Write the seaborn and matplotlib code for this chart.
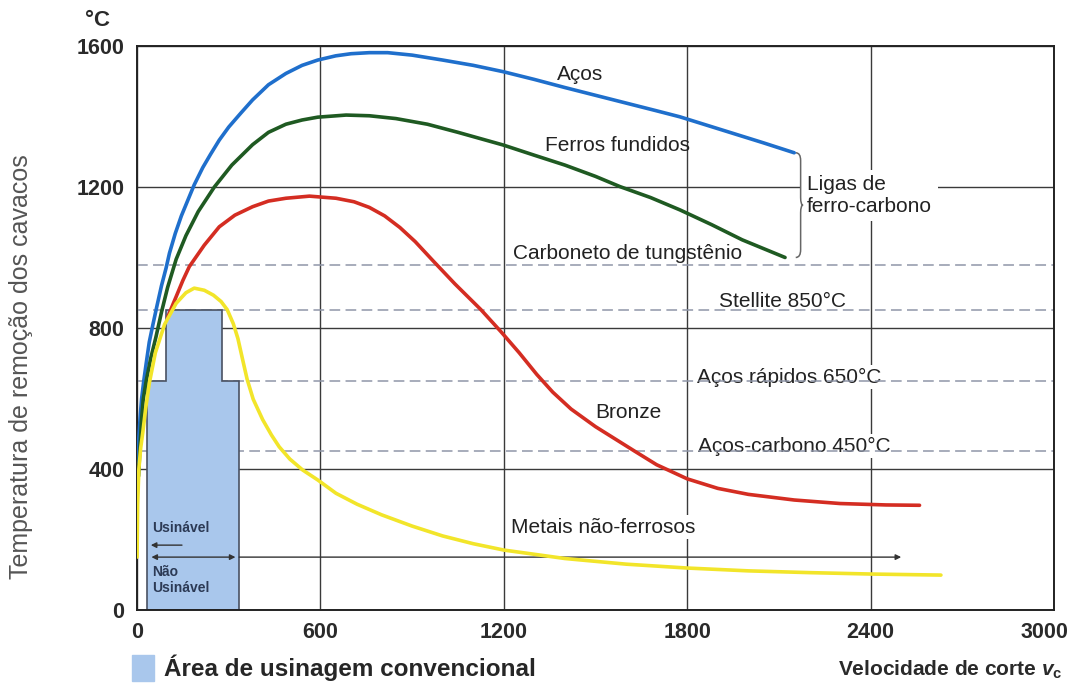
import pandas as pd
import matplotlib.pyplot as plt
import seaborn as sns
from matplotlib.patches import Patch, PathPatch
from matplotlib.path import Path
from matplotlib.transforms import ScaledTranslation

# curvas (velocidade de corte m/min, temperatura C)
aco_x = [2, 6, 10, 15, 22, 30, 40, 52, 65, 80, 95, 106, 125, 145, 165, 187, 215, 240, 269, 300,
         340, 378, 430, 487, 540, 591, 650, 700, 760, 820, 900, 1000, 1100, 1198, 1300, 1400,
         1500, 1600, 1700, 1776, 1850, 1950, 2050, 2150]
aco_y = [420, 490, 545, 600, 650, 700, 760, 810, 862, 920, 970, 1012, 1068, 1118, 1160, 1206,
         1255, 1292, 1333, 1370, 1410, 1447, 1490, 1522, 1545, 1560, 1572, 1578, 1581, 1581,
         1574, 1560, 1545, 1527, 1505, 1482, 1460, 1438, 1416, 1399, 1379, 1352, 1325, 1297]

ferro_x = [5, 10, 15, 20, 30, 45, 62, 80, 100, 128, 160, 200, 253, 310, 378, 430, 487, 540, 591,
           684, 760, 847, 950, 1050, 1198, 1300, 1400, 1500, 1580, 1680, 1776, 1880, 1980, 2050, 2120]
ferro_y = [380, 470, 540, 596, 650, 715, 775, 845, 915, 995, 1062, 1130, 1200, 1262, 1320, 1355,
           1378, 1390, 1398, 1404, 1402, 1394, 1378, 1355, 1319, 1290, 1262, 1230, 1201, 1170,
           1135, 1093, 1050, 1025, 1000]

bronze_x = [100, 115, 128, 150, 171, 220, 269, 320, 378, 430, 487, 564, 651, 710,
            760, 810, 860, 910, 969, 1040, 1125, 1190, 1250, 1308, 1360, 1420, 1500, 1629, 1700,
            1800, 1900, 2000, 2150, 2300, 2450, 2560]
bronze_y = [830, 862, 889, 935, 974, 1035, 1087, 1120, 1144, 1160, 1168, 1174,
            1168, 1158, 1142, 1118, 1085, 1045, 990, 925, 852, 790, 730, 668, 618, 570, 520, 450,
            412, 372, 345, 328, 312, 302, 298, 297]

naofe_x = [0, 2, 6, 12, 19, 28, 40, 60, 90, 128, 160, 187, 220, 250, 275, 295, 315, 330, 345,
           360, 380, 411, 440, 465, 500, 542, 591, 651, 720, 800, 900, 1000, 1100, 1200, 1400,
           1600, 1800, 2000, 2200, 2400, 2630]
naofe_y = [150, 300, 400, 460, 505, 570, 643, 730, 810, 870, 900, 913, 907, 893, 875, 852, 812,
           770, 712, 655, 598, 540, 496, 463, 428, 397, 369, 331, 300, 270, 238, 210, 188, 170,
           146, 130, 119, 111, 106, 102, 99]

# limites de temperatura das ferramentas
limites = [980, 850, 650, 450]
limites_txt = ["Carboneto de tungstênio", "Stellite 850°C", "Aços rápidos 650°C", "Aços-carbono 450°C"]

# area de usinagem convencional
area_x = [33, 33, 94, 94, 277, 277, 334, 334]
area_y = [0, 650, 650, 850, 850, 650, 650, 0]

x_ticks = [0, 600, 1200, 1800, 2400, 3000]
y_ticks = [0, 400, 800, 1200, 1600]

nomes = ["Aços", "Ferros fundidos", "Bronze", "Metais não-ferrosos"]
cores = {"Aços": "#1f6fcc", "Ferros fundidos": "#1f5a22", "Bronze": "#d42d22",
         "Metais não-ferrosos": "#f2e52a"}

df = pd.concat([
    pd.DataFrame({"v": aco_x, "T": aco_y, "curva": nomes[0]}),
    pd.DataFrame({"v": ferro_x, "T": ferro_y, "curva": nomes[1]}),
    pd.DataFrame({"v": bronze_x, "T": bronze_y, "curva": nomes[2]}),
    pd.DataFrame({"v": naofe_x, "T": naofe_y, "curva": nomes[3]}),
])

sns.set_theme(style="white")
plt.rcParams['font.family'] = ['Liberation Sans', 'DejaVu Sans']
plt.rcParams['mathtext.fontset'] = 'custom'
plt.rcParams['mathtext.rm'] = 'Liberation Sans:bold'
plt.rcParams['mathtext.it'] = 'Liberation Sans:italic:bold'

fig = plt.figure(figsize=(10.74, 6.84), dpi=100)
ax = fig.add_axes([0.1276, 0.1082, 0.8538, 0.8246])

ax.set_xlim(0, 3000)
ax.set_ylim(0, 1600)
ax.set_xticks(x_ticks)
ax.set_yticks(y_ticks)
ax.set_xticklabels([str(t) for t in x_ticks], fontsize=15.5, fontweight='bold', color='#2a2a2a')
ax.set_yticklabels([str(t) for t in y_ticks], fontsize=15.5, fontweight='bold', color='#2a2a2a')
ax.tick_params(axis='both', length=0)
ax.tick_params(axis='x', pad=9)
ax.tick_params(axis='y', pad=9)
ult = ax.get_xticklabels()[-1]
ult.set_transform(ult.get_transform() + ScaledTranslation(-10 / 100, 0, fig.dpi_scale_trans))
ax.set_axisbelow(True)
ax.grid(True, color='#3a3a3a', lw=1.0)
for s in ax.spines.values():
    s.set_color('#222222')
    s.set_linewidth(1.4)

for v in limites:
    ax.axhline(v, ls=(0, (7, 3.5)), color='#8f96a8', lw=1.1, zorder=1.5)

ax.fill(area_x, area_y, facecolor='#a9c7ec', edgecolor='#4a5262', lw=1.2, zorder=2)

sns.lineplot(data=df, x="v", y="T", hue="curva", palette=cores, estimator=None, sort=False,
             lw=2.6, legend=False, ax=ax, zorder=4)

ax.set_xlabel("")
ax.set_ylabel("Temperatura de remoção dos cavacos", fontsize=18, color='#555555')
ax.yaxis.set_label_coords(-0.1135, 0.431)

txt = dict(fontsize=15, color='#222222', ha='center', va='center')
caixa = dict(facecolor='white', edgecolor='none', pad=2)
ax.text(1449, 1518, "Aços", **txt)
ax.text(1573, 1319, "Ferros fundidos", **txt)
ax.text(1606, 1010, limites_txt[0], **txt)
ax.text(2113, 874, limites_txt[1], **txt)
ax.text(2133, 661, limites_txt[2], zorder=1.2, bbox=caixa, **txt)
ax.text(2149, 465, limites_txt[3], zorder=1.2, bbox=caixa, **txt)
ax.text(1606, 559, "Bronze", **txt)
ax.text(1524, 235, "Metais não-ferrosos", zorder=1.2, bbox=caixa, **txt)
ax.text(2192, 1176, "Ligas de\nferro-carbono", fontsize=15, color='#222222', ha='left',
        va='center', linespacing=1.15, zorder=1.2, bbox=dict(facecolor='white', edgecolor='none', pad=4))

# chave das ligas de ferro-carbono
x0 = max(aco_x[-1], ferro_x[-1]) + 5
yt, yb = aco_y[-1], ferro_y[-1]
ym = (yt + yb) / 2
w, h = 16, 22
verts = [(x0, yt), (x0 + w, yt), (x0 + w, yt - h), (x0 + w, ym + h), (x0 + w, ym), (x0 + w + 8, ym),
         (x0 + w, ym), (x0 + w, ym - h), (x0 + w, yb + h), (x0 + w, yb), (x0, yb)]
codes = [Path.MOVETO, Path.CURVE3, Path.CURVE3, Path.LINETO, Path.CURVE3, Path.CURVE3,
         Path.CURVE3, Path.CURVE3, Path.LINETO, Path.CURVE3, Path.CURVE3]
ax.add_patch(PathPatch(Path(verts, codes), facecolor='none', edgecolor='#666666', lw=1.1, zorder=3))

# usinavel / nao usinavel
seta = dict(color='#333333', lw=1.0, mutation_scale=8, shrinkA=0, shrinkB=0)
ax.annotate("", xy=(45, 184), xytext=(147, 184), arrowprops=dict(arrowstyle='-|>', **seta), zorder=3)
ax.annotate("", xy=(47, 150), xytext=(322, 150), arrowprops=dict(arrowstyle='<|-|>', **seta), zorder=3)
ax.annotate("", xy=(2500, 150), xytext=(334, 150), arrowprops=dict(arrowstyle='-|>', **seta), zorder=3)
ax.text(49, 233, "Usinável", fontsize=10, fontweight='bold', color='#2c3a55', va='center', zorder=3)
ax.text(49, 85, "Não\nUsinável", fontsize=10, fontweight='bold', color='#2c3a55', va='center',
        linespacing=1.1, zorder=3)

fig.text(85 / 1074, 1 - 20 / 684, "°C", fontsize=16, fontweight='bold', color='#2a2a2a', va='center')
fig.text(1062 / 1074, 1 - 670 / 684, r"Velocidade de corte $v_\mathrm{c}$", fontsize=15,
         fontweight='bold', color='#2a2a2a', ha='right', va='center')

ax.legend(handles=[Patch(facecolor='#a9c7ec', edgecolor='#a9c7ec', label='Área de usinagem convencional')],
          loc='center left', bbox_to_anchor=(132 / 1074, 1 - 668 / 684), bbox_transform=fig.transFigure,
          frameon=False, prop=dict(size=17.5, weight='bold'), handlelength=0.9, handleheight=1.3,
          handletextpad=0.4, borderpad=0, borderaxespad=0)

fig.savefig("out.png", dpi=100)
